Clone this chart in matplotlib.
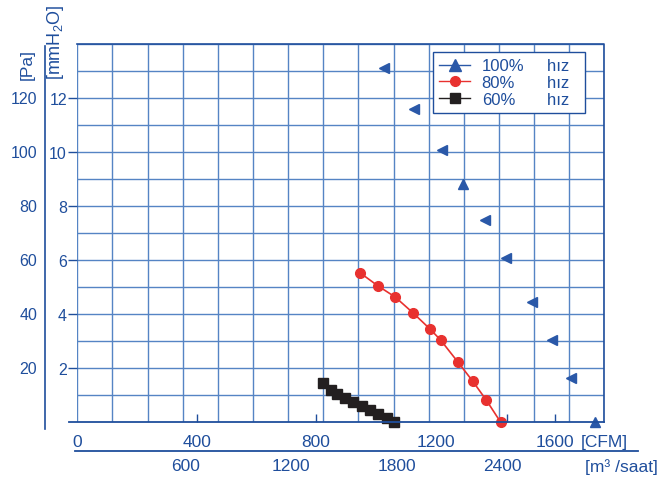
import matplotlib
matplotlib.use("Agg")
import matplotlib.pyplot as plt
from matplotlib.lines import Line2D
import numpy as np

# Fan curve: static pressure vs. airflow at three speeds
plt.rcParams["font.family"] = ["Liberation Sans", "DejaVu Sans"]
plt.rcParams["mathtext.fontset"] = "custom"
plt.rcParams["mathtext.rm"] = "Liberation Sans"

# ── data (airflow in CFM, pressure in Pa) ───────────────────────────────────
cfm_100 = [1028, 1128, 1221, 1293, 1367, 1438, 1524, 1591, 1655, 1736]
pa_100 = [131, 116, 100.7, 88, 74.7, 60.6, 44.3, 30.4, 16.2, 0]

cfm_80 = [947, 1006, 1065, 1125, 1183, 1217, 1276, 1325, 1371, 1418]
pa_80 = [55.3, 50.5, 46.3, 40.4, 34.3, 30.4, 22.1, 15.1, 8.0, 0]

cfm_60 = [824, 851, 871, 897, 925, 954, 981, 1008, 1037, 1062]
pa_60 = [14.3, 11.9, 10.3, 8.8, 7.3, 5.8, 4.3, 2.9, 1.4, 0]

series_labels = ["100%", "80%", "60%"]
speed_word = "hız"

pa_ticks = [20, 40, 60, 80, 100, 120]
mmh2o_labels = ["2", "4", "6", "8", "10", "12"]
cfm_ticks = [0, 400, 800, 1200, 1600]
m3h_ticks = [600, 1200, 1800, 2400]
small_ticks_cfm = [400, 800, 1440, 1600]

M3H_PER_CFM = 1.699
M3H_MAX = 3000

# ── styles ───────────────────────────────────────────────────────────────────
BLUE = "#1f4e9c"
GRID = "#5584c4"
TRI = "#2a58a8"
RED = "#e8312f"
BLACK = "#231f20"
tri_markers = ["<", "<", "<", "^", "<", "<", "<", "<", "<", "^"]

fig = plt.figure(figsize=(6.71, 4.85), dpi=100)
ax = fig.add_axes([77.3 / 671, 62 / 485, 527 / 671, 378 / 485])

xmax = M3H_MAX / M3H_PER_CFM
ax.set_xlim(0, xmax)
ax.set_ylim(0, 140)

# grid: every 200 m3/h vertically, every 10 Pa horizontally
for v in np.arange(0, M3H_MAX + 1, 200):
    ax.axvline(v / M3H_PER_CFM, color=GRID, lw=1.0, zorder=1)
for p in range(10, 141, 10):
    ax.axhline(p, color=GRID, lw=1.0, zorder=1)

for s in ax.spines.values():
    s.set_visible(False)

# curves
for x, y, m in zip(cfm_100, pa_100, tri_markers):
    ax.plot(x, y, marker=m, ms=7, color=TRI, ls="none", zorder=4, clip_on=False)
ax.plot(cfm_80, pa_80, color=RED, lw=1.2, marker="o", ms=7, zorder=4, clip_on=False)
ax.plot(cfm_60, pa_60, color=BLACK, lw=1.2, marker="s", ms=6.5, zorder=4, clip_on=False)

# left axis: mmH2O tick labels, Pa as extra column
ax.set_yticks(pa_ticks)
ax.set_yticklabels(mmh2o_labels)
ax.tick_params(axis="y", direction="out", length=6.5, width=1, color=BLUE,
               labelcolor=BLUE, labelsize=11.5, pad=1)
for p in pa_ticks:
    ax.annotate(str(p), xy=(0, p), xycoords=("axes fraction", "data"),
                xytext=(-40, 0), textcoords="offset pixels",
                ha="right", va="center", color=BLUE, fontsize=11.5)

# bottom axis: CFM labels, small tick marks
ax.xaxis.remove_overlapping_locs = False
ax.set_xticks(cfm_ticks)
ax.set_xticklabels([str(c) for c in cfm_ticks])
ax.set_xticks(small_ticks_cfm, minor=True)
ax.tick_params(axis="x", which="major", length=0, pad=9, labelcolor=BLUE, labelsize=12.5)
ax.tick_params(axis="x", which="minor", direction="in", length=5.5, width=1, color=BLUE)
ax.annotate("[CFM]", xy=(1600, 0), xycoords=("data", "axes fraction"),
            xytext=(26, -12), textcoords="offset pixels",
            ha="left", va="top", color=BLUE, fontsize=12.5)

# second row: m3/h
for v in m3h_ticks:
    ax.annotate(str(v), xy=(v / M3H_PER_CFM, 0), xycoords=("data", "axes fraction"),
                xytext=(3, -44), textcoords="offset pixels",
                ha="center", va="center", color=BLUE, fontsize=12.5)
ax.annotate("[m³ /saat]", xy=(M3H_MAX / M3H_PER_CFM, 0), xycoords=("data", "axes fraction"),
            xytext=(-19, -44), textcoords="offset pixels",
            ha="left", va="center", color=BLUE, fontsize=12.5)

# decorative axis lines
fig.add_artist(Line2D([69 / 671, 604.3 / 671], [62 / 485, 62 / 485], color=BLUE, lw=1.3))
fig.add_artist(Line2D([75 / 671, 638 / 671], [33.3 / 485, 33.3 / 485], color=BLUE, lw=1.3))
fig.add_artist(Line2D([45 / 671, 45 / 671], [55 / 485, 438 / 485], color=BLUE, lw=1.2))
ax.plot([0, 1, 1], [1, 1, 0], transform=ax.transAxes, color=BLUE, lw=1.2, zorder=2, clip_on=False)

# unit labels on the left
fig.text(27 / 671, 1 - 65 / 485, "[Pa]", rotation=90, ha="center", va="center",
         color=BLUE, fontsize=12.5)
fig.text(55 / 671, 1 - 42 / 485, "[mmH$_2$O]", rotation=90, ha="center", va="center",
         color=BLUE, fontsize=13)

# legend: two columns, second holds the word "hız"
handles = [
    Line2D([], [], color=TRI, marker="^", ms=8, lw=1),
    Line2D([], [], color=RED, marker="o", ms=7, lw=1),
    Line2D([], [], color=BLACK, marker="s", ms=6.5, lw=1),
]
blank = [Line2D([], [], ls="none") for _ in handles]
leg = ax.legend(handles + blank, series_labels + [speed_word + "  "] * 3,
                ncol=2, loc="upper right", bbox_to_anchor=(0.9634, 0.9796),
                borderaxespad=0, fontsize=12, labelcolor=BLUE, fancybox=False,
                framealpha=1, edgecolor=BLUE, handlelength=1.85, handletextpad=0.7,
                columnspacing=-1.2, labelspacing=0.1, borderpad=0.4)
leg.get_frame().set_linewidth(1.0)
leg.set_zorder(5)

fig.savefig("out.png", dpi=100)
